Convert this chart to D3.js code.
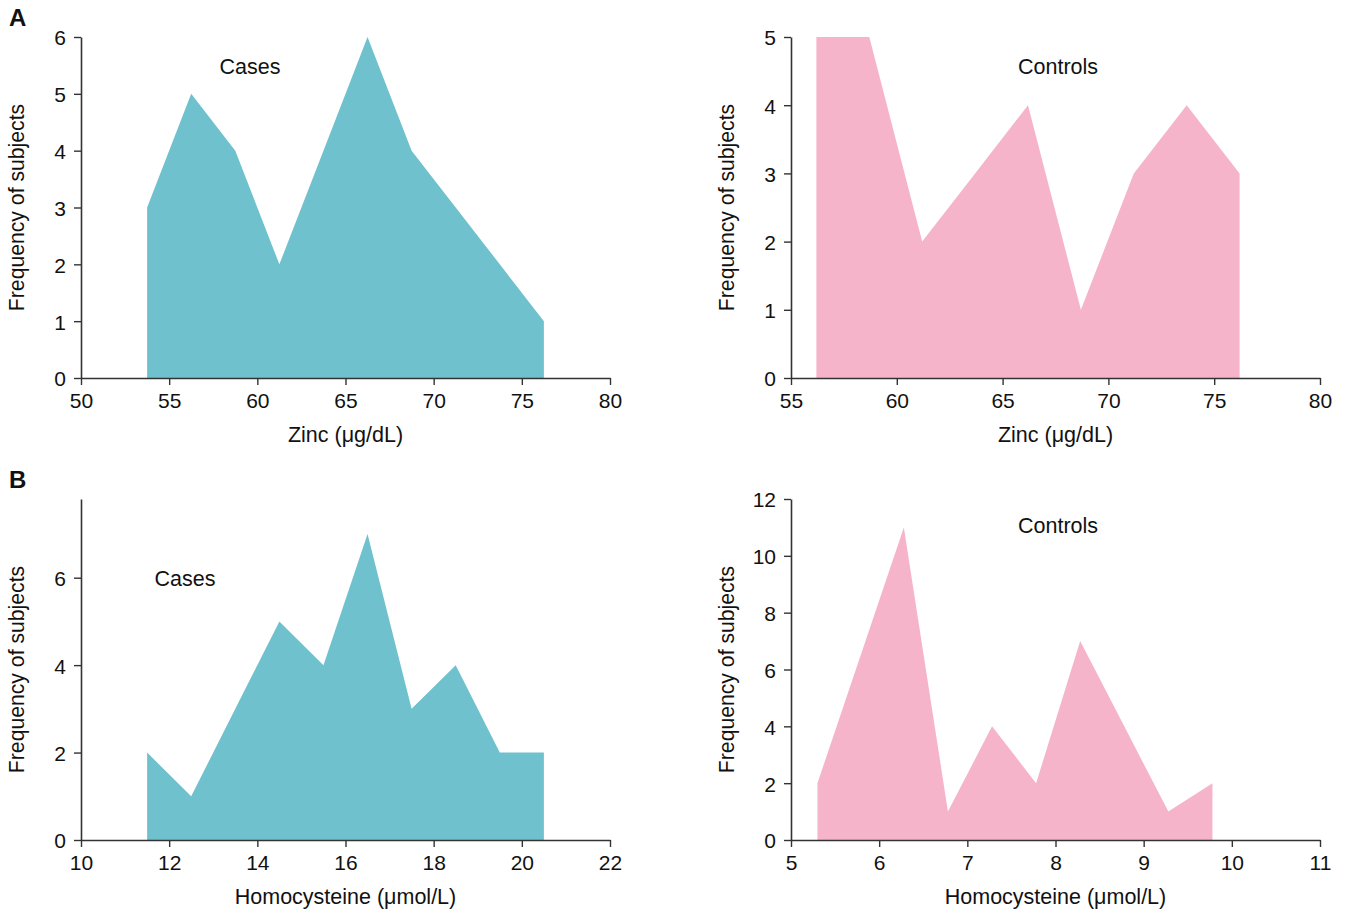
<!DOCTYPE html>
<html>
<head>
<meta charset="utf-8">
<script src="https://cdn.jsdelivr.net/npm/d3@7"></script>
<style>
  body { margin: 0; background: #fff; }
  svg { display: block; font-family: "Liberation Sans", Arial, sans-serif; }
</style>
</head>
<body>
<svg id="chart" width="1346" height="915"></svg>
<script>
// zinc (µg/dL) frequency polygons
const zincCasesX = [53.75, 56.25, 58.75, 61.25, 63.75, 66.25, 68.75, 71.25, 73.75, 76.25];
const zincCasesY = [3, 5, 4, 2, 4, 6, 4, 3, 2, 1];
const zincControlsX = [56.2, 58.7, 61.2, 63.7, 66.2, 68.7, 71.2, 73.7, 76.2];
const zincControlsY = [5, 5, 2, 3, 4, 1, 3, 4, 3];

// homocysteine (µmol/L)
const hcyCasesX = [11.5, 12.5, 13.5, 14.5, 15.5, 16.5, 17.5, 18.5, 19.5, 20.5];
const hcyCasesY = [2, 1, 3, 5, 4, 7, 3, 4, 2, 2];
const hcyControlsX = [5.3, 6.28, 6.78, 7.28, 7.78, 8.28, 8.78, 9.28, 9.78];
const hcyControlsY = [2, 11, 1, 4, 2, 7, 4, 1, 2];

// tick labels
const zincCasesTicks = [50, 55, 60, 65, 70, 75, 80];
const zincControlsTicks = [55, 60, 65, 70, 75, 80];
const hcyCasesTicks = [10, 12, 14, 16, 18, 20, 22];
const hcyControlsTicks = [5, 6, 7, 8, 9, 10, 11];

const teal = '#6fc1ce';
const pink = '#f6b4ca';

const svg = d3.select('#chart');

const panels = [
  { left: 81, top: 37, xDom: [50, 80], yDom: [0, 6], xTicks: zincCasesTicks, yTicks: d3.range(0, 7),
    xs: zincCasesX, ys: zincCasesY, color: teal, xTitle: 'Zinc (\u03bcg/dL)', label: 'Cases', lx: 250, ly: 66 },
  { left: 791, top: 37, xDom: [55, 80], yDom: [0, 5], xTicks: zincControlsTicks, yTicks: d3.range(0, 6),
    xs: zincControlsX, ys: zincControlsY, color: pink, xTitle: 'Zinc (\u03bcg/dL)', label: 'Controls', lx: 1058, ly: 66 },
  { left: 81, top: 499, xDom: [10, 22], yDom: [0, 7.8], xTicks: hcyCasesTicks, yTicks: [0, 2, 4, 6],
    xs: hcyCasesX, ys: hcyCasesY, color: teal, xTitle: 'Homocysteine (\u03bcmol/L)', label: 'Cases', lx: 185, ly: 578 },
  { left: 791, top: 499, xDom: [5, 11], yDom: [0, 12], xTicks: hcyControlsTicks, yTicks: d3.range(0, 13, 2),
    xs: hcyControlsX, ys: hcyControlsY, color: pink, xTitle: 'Homocysteine (\u03bcmol/L)', label: 'Controls', lx: 1058, ly: 525 }
];

const w = 529, h = 341;
const fmt = d3.format('d');

panels.forEach(p => {
  const g = svg.append('g').attr('transform', `translate(${p.left},${p.top})`);
  const x = d3.scaleLinear().domain(p.xDom).range([0, w]);
  const y = d3.scaleLinear().domain(p.yDom).range([h, 0]);

  const pts = p.xs.map((v, i) => ({ x: v, y: p.ys[i] }));
  const area = d3.area()
    .x(d => x(d.x))
    .y0(y(0))
    .y1(d => y(d.y));

  g.append('path')
    .datum(pts)
    .attr('d', area)
    .attr('fill', p.color);

  // axes
  const xAxis = g.append('g')
    .attr('transform', `translate(0,${h})`)
    .call(d3.axisBottom(x).tickValues(p.xTicks).tickFormat(fmt).tickSize(7).tickPadding(8).tickSizeOuter(0));
  const yAxis = g.append('g')
    .call(d3.axisLeft(y).tickValues(p.yTicks).tickFormat(fmt).tickSize(7).tickPadding(8).tickSizeOuter(0));

  [xAxis, yAxis].forEach(a => {
    a.attr('font-size', null).attr('font-family', null);
    a.select('.domain').attr('stroke', '#333').attr('stroke-width', 1.6);
    a.selectAll('.tick line').attr('stroke', '#333').attr('stroke-width', 1.4);
    a.selectAll('.tick text')
      .attr('fill', '#111')
      .style('font-size', '21px');
  });
  yAxis.selectAll('.tick text').attr('dy', '0.38em');

  // axis title
  g.append('text')
    .attr('x', w / 2)
    .attr('y', h + 64)
    .attr('text-anchor', 'middle')
    .attr('fill', '#111')
    .style('font-size', '21.5px')
    .text(p.xTitle);

  const yTitleX = p.left > 400 ? 734 : 24;
  svg.append('text')
    .attr('transform', `translate(${yTitleX},${p.top + h / 2}) rotate(-90)`)
    .attr('text-anchor', 'middle')
    .attr('fill', '#111')
    .style('font-size', '21.2px')
    .text('Frequency of subjects');

  // group label
  svg.append('text')
    .attr('x', p.lx)
    .attr('y', p.ly)
    .attr('dy', '0.35em')
    .attr('text-anchor', 'middle')
    .attr('fill', '#111')
    .style('font-size', '21.5px')
    .text(p.label);
});

// panel letters
[['A', 26], ['B', 488]].forEach(([t, yy]) => {
  svg.append('text').attr('x', 9).attr('y', yy).text(t)
    .style('font-family', '"Liberation Sans Narrow", "Liberation Sans", Arial, sans-serif')
    .style('font-weight', 'bold').style('font-size', '24px').attr('fill', '#111');
});
</script>
</body>
</html>
